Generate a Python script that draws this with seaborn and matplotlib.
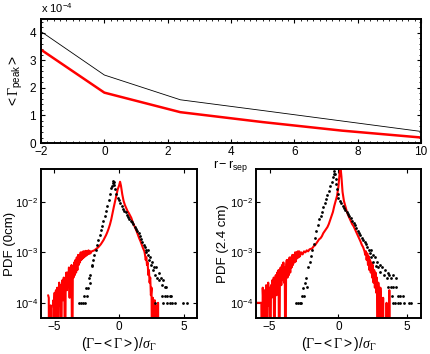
import numpy as np
import matplotlib
matplotlib.use("Agg")
import matplotlib.pyplot as plt
import seaborn as sns
from matplotlib.ticker import MultipleLocator, FixedLocator, NullLocator

sns.set_style("ticks")
plt.rcParams["font.family"] = ["Liberation Sans", "DejaVu Sans"]
plt.rcParams["mathtext.fontset"] = "custom"
plt.rcParams["mathtext.rm"] = "Liberation Serif"
plt.rcParams["mathtext.it"] = "Liberation Serif:italic"
plt.rcParams["mathtext.sf"] = "Liberation Sans"
for key in ["text.color", "axes.labelcolor", "xtick.color", "ytick.color", "axes.edgecolor"]:
    plt.rcParams[key] = "black"

# top panel: mean peak flux vs radial position
r_pos = [-2, 0, 2.4, 5, 7.5, 10]
gamma_black = [4.05, 2.47, 1.57, 1.18, 0.80, 0.42]
gamma_red = [3.39, 1.83, 1.12, 0.76, 0.45, 0.20]

# PDFs, log10 values (-6 = empty bin, below axis)
red0_x = [-5.45, -5.4, -5.38, -5.3, -5.25, -5.2, -5.1, -5.05, -5.0, -4.95, -4.9, -4.85,
          -4.8, -4.75, -4.7, -4.65, -4.6, -4.55, -4.5, -4.45, -4.4, -4.35, -4.3, -4.25,
          -4.2, -4.15, -4.1, -4.05, -4.0, -3.95, -3.9, -3.85, -3.8, -3.75, -3.7, -3.65,
          -3.6, -3.55, -3.5, -3.45, -3.4, -3.35, -3.3, -3.25, -3.2, -3.15, -3.1, -3.05,
          -3.0, -2.95, -2.9, -2.85, -2.8, -2.75, -2.7, -2.65, -2.6, -2.55, -2.5, -2.45,
          -2.4, -2.35, -2.3, -2.25, -2.2, -2.1, -2.0, -1.9, -1.8, -1.7, -1.6, -1.5, -1.4,
          -1.3, -1.2, -1.1, -1.0, -0.9, -0.8, -0.7, -0.6, -0.5, -0.4, -0.3, -0.2, -0.1,
          0.0, 0.08, 0.15, 0.25, 0.35, 0.45, 0.55, 0.65, 0.75, 0.85, 0.95, 1.05, 1.15,
          1.25, 1.35, 1.45, 1.55, 1.65, 1.75, 1.85, 1.95, 2.0, 2.05, 2.1, 2.15, 2.2, 2.25,
          2.3, 2.35, 2.4, 2.45, 2.5, 2.55, 2.6, 2.65, 2.7, 2.75, 2.8, 2.85, 2.95, 3.0,
          3.05, 3.15]
red0_lg = [-3.85, -3.9, -6, -6, -4.05, -6, -6, -3.95, -4.1, -3.8, -6, -3.75,
           -4.0, -3.7, -6, -3.9, -3.6, -4.05, -3.65, -6, -3.7, -3.55, -3.95, -3.5,
           -3.8, -6, -3.55, -3.4, -3.75, -3.4, -3.65, -3.3, -3.9, -3.35, -3.6, -3.25,
           -6, -3.3, -3.5, -3.2, -3.45, -3.15, -3.4, -3.1, -3.35, -3.05, -3.25, -3.05,
           -3.2, -3.0, -3.15, -3.0, -3.12, -2.98, -3.1, -2.98, -3.08, -2.97, -3.06, -2.98,
           -3.04, -2.96, -3.03, -2.97, -3.02, -2.98, -2.97, -2.96, -2.94, -2.92, -2.9, -2.87, -2.84,
           -2.8, -2.76, -2.71, -2.66, -2.6, -2.53, -2.45, -2.35, -2.22, -2.1, -1.98, -1.86, -1.75,
           -1.68, -1.6, -1.68, -1.85, -1.98, -2.06, -2.12, -2.18, -2.22, -2.27, -2.32, -2.4, -2.46,
           -2.52, -2.58, -2.65, -2.72, -2.78, -2.85, -2.92, -2.98, -3.05, -3.15, -3.1, -3.25, -3.2, -3.45,
           -3.35, -3.6, -3.5, -3.85, -3.7, -6, -3.9, -4.0, -6, -3.95, -6, -4.05, -6, -4.0,
           -6, -6]

blk0_x = [-3.05, -2.95, -2.8, -2.6, -2.7, -2.55, -2.45, -2.4, -2.3, -2.25, -2.2, -2.1,
          -2.05, -2.0, -1.9, -1.8, -1.7, -1.6, -1.5, -1.4, -1.3, -1.2, -1.1, -1.0, -0.9,
          -0.8, -0.7, -0.6, -0.55, -0.5, -0.45, -0.4, -0.35, -0.3, -0.2, -0.1, 0.0, 0.1,
          0.2, 0.3, 0.4, 0.5, 0.6, 0.7, 0.8, 0.9, 1.0, 1.1, 1.2, 1.3, 1.4, 1.5, 1.6, 1.7,
          1.8, 1.9, 2.0, 2.05, 2.1, 2.2, 2.25, 2.3, 2.4, 2.45, 2.55, 2.6, 2.7, 2.8, 2.85,
          2.95, 3.05, 3.1, 3.2, 3.3, 3.4, 3.5, 3.6, 3.3, 3.5, 3.7, 3.9, 4.0, 2.8, 3.4,
          3.7, 3.9, 4.1, 4.3, 4.9, 5.2]
blk0_lg = [-4.0, -4.0, -4.0, -4.0, -3.86, -3.7, -3.86, -3.7, -3.5, -3.6, -3.45, -3.25,
           -3.28, -3.16, -3.06, -2.96, -2.86, -2.76, -2.66, -2.56, -2.47, -2.38, -2.28, -2.18, -2.08,
           -1.96, -1.84, -1.72, -1.68, -1.62, -1.58, -1.6, -1.66, -1.74, -1.84, -1.92, -1.97, -2.02,
           -2.08, -2.14, -2.18, -2.2, -2.26, -2.3, -2.33, -2.37, -2.4, -2.44, -2.5, -2.54, -2.58, -2.62, -2.68, -2.74,
           -2.8, -2.86, -2.9, -3.0, -2.95, -3.05, -2.95, -3.15, -3.1, -3.25, -3.2, -3.35, -3.3, -3.45, -3.3,
           -3.5, -3.4, -3.55, -3.5, -3.65, -3.55, -3.68, -3.68, -3.86, -3.86, -3.86, -3.86, -3.86, -4.0, -4.0,
           -4.0, -4.0, -4.0, -4.0, -4.0, -4.0]

red24_x = [-6.0, -5.6, -5.55, -5.5, -5.45, -5.4, -5.35, -5.3, -5.25, -5.2, -5.15, -5.1,
           -5.05, -5.0, -4.95, -4.9, -4.85, -4.8, -4.75, -4.7, -4.65, -4.6, -4.55, -4.5,
           -4.45, -4.4, -4.35, -4.3, -4.25, -4.2, -4.15, -4.1, -4.05, -4.0, -3.95, -3.9,
           -3.85, -3.8, -3.75, -3.7, -3.65, -3.6, -3.55, -3.5, -3.45, -3.4, -3.35, -3.3,
           -3.25, -3.2, -3.15, -3.1, -3.05, -3.0, -2.95, -2.9, -2.85, -2.8, -2.7, -2.6,
           -2.5, -2.4, -2.3, -2.2, -2.1, -2.0, -1.9, -1.8, -1.7, -1.6, -1.5, -1.4, -1.3,
           -1.2, -1.1, -1.0, -0.9, -0.8, -0.7, -0.6, -0.5, -0.4, -0.3, -0.2, -0.1, 0.0,
           0.08, 0.15, 0.22, 0.3, 0.4, 0.5, 0.6, 0.7, 0.8, 0.9, 1.0, 1.1, 1.2, 1.3, 1.4,
           1.5, 1.6, 1.7, 1.8, 1.9, 1.95, 2.0, 2.05, 2.1, 2.15, 2.2, 2.25, 2.3, 2.35, 2.4,
           2.45, 2.5, 2.55, 2.6, 2.65, 2.7, 2.75, 2.8, 2.85, 2.9, 2.95, 3.0, 3.05, 3.1,
           3.15, 3.25, 3.3, 3.45, 3.5, 3.55, 3.65, 3.7, 3.75, 3.85]
red24_lg = [-4.0, -4.0, -6, -3.7, -4.05, -6, -3.75, -4.1, -3.65, -6, -3.8, -3.6,
            -4.05, -3.7, -6, -3.65, -3.9, -3.55, -3.85, -3.5, -6, -3.55, -3.45, -3.85,
            -3.4, -3.7, -3.35, -6, -3.45, -3.3, -3.65, -3.25, -3.55, -3.2, -3.6, -3.3,
            -6, -3.25, -3.15, -3.5, -3.15, -3.45, -3.1, -3.4, -3.1, -3.3, -3.05, -3.25,
            -3.05, -3.2, -3.0, -3.18, -3.0, -3.12, -2.98, -3.1, -2.98, -3.08, -3.0, -3.04,
            -2.98, -3.0, -2.96, -2.98, -2.94, -2.93, -2.92, -2.88, -2.86, -2.82, -2.78, -2.74, -2.72,
            -2.68, -2.62, -2.58, -2.54, -2.5, -2.44, -2.36, -2.28, -2.2, -2.08, -1.98, -1.88, -1.7,
            -1.45, -1.3, -1.5, -1.8, -1.98, -2.08, -2.18, -2.26, -2.32, -2.38, -2.44, -2.48, -2.54, -2.6, -2.66,
            -2.72, -2.78, -2.85, -2.9, -2.98, -3.05, -2.98, -3.15, -3.02, -3.25, -3.08, -3.35, -3.15, -3.4, -3.2,
            -3.5, -3.25, -3.6, -3.35, -3.7, -3.4, -3.8, -3.5, -6, -3.6, -3.85, -6, -3.7, -4.0,
            -6, -3.9, -6, -6, -4.0, -6, -6, -3.75, -6, -6]

blk24_x = [-3.1, -2.95, -2.8, -2.7, -2.65, -2.5, -2.6, -2.45, -2.35, -2.3, -2.2, -2.1,
           -2.0, -1.9, -1.8, -1.7, -1.6, -1.5, -1.4, -1.3, -1.2, -1.1, -1.0, -0.9, -0.8,
           -0.7, -0.6, -0.5, -0.4, -0.35, -0.3, -0.25, -0.2, -0.15, -0.1, -0.05, 0.0, 0.1,
           0.2, 0.3, 0.4, 0.5, 0.6, 0.7, 0.8, 0.9, 1.0, 1.1, 1.2, 1.3, 1.4, 1.5, 1.6, 1.7,
           1.8, 1.9, 2.0, 2.1, 2.2, 2.3, 2.35, 2.4, 2.5, 2.55, 2.65, 2.7, 2.8, 2.9, 3.0,
           3.05, 3.2, 3.3, 3.4, 3.5, 3.6, 3.7, 3.85, 4.0, 4.2, 3.6, 3.8, 4.0, 4.2, 3.9,
           4.3, 4.5, 4.7, 3.95, 4.1, 4.3, 4.5, 4.8, 5.1, 5.3]
blk24_lg = [-4.0, -4.0, -4.0, -4.0, -3.86, -3.86, -3.7, -3.6, -3.5, -3.68, -3.3, -3.2,
            -3.08, -2.95, -2.84, -2.72, -2.58, -2.45, -2.34, -2.27, -2.2, -2.1, -2.02, -1.94, -1.86,
            -1.78, -1.68, -1.6, -1.5, -1.44, -1.38, -1.45, -1.55, -1.65, -1.75, -1.85, -1.92, -1.98,
            -2.03, -2.08, -2.12, -2.16, -2.19, -2.24, -2.28, -2.32, -2.38, -2.42, -2.46, -2.52, -2.58, -2.62, -2.66, -2.72,
            -2.76, -2.8, -2.84, -2.9, -2.95, -3.02, -2.95, -3.1, -3.05, -3.2, -3.1, -3.28, -3.2, -3.3, -3.25,
            -3.38, -3.3, -3.45, -3.35, -3.5, -3.4, -3.45, -3.5, -3.45, -3.5, -3.68, -3.68, -3.68, -3.68, -3.86,
            -3.86, -3.86, -3.86, -4.0, -4.0, -4.0, -4.0, -4.0, -4.0, -4.0]

fig = plt.figure(figsize=(4.3, 3.54), dpi=100)
ax_top = fig.add_axes([0.0953, 0.596, 0.884, 0.350])
ax_l = fig.add_axes([0.0953, 0.1017, 0.363, 0.421])
ax_r = fig.add_axes([0.595, 0.1017, 0.384, 0.421])

def frame(ax):
    for s in ax.spines.values():
        s.set_visible(True)
        s.set_linewidth(1.4)
        s.set_color("black")
    ax.tick_params(direction="in", top=True, right=True, labelsize=8.5, width=0.8, length=3, pad=2.5)
    ax.tick_params(which="minor", direction="in", top=True, right=True, width=0.6, length=1.5)

sns.lineplot(x=r_pos, y=np.array(gamma_black) * 1e-4, ax=ax_top, color="k", linewidth=0.6)
sns.lineplot(x=r_pos, y=np.array(gamma_red) * 1e-4, ax=ax_top, color="red", linewidth=1.8)
ax_top.set_xlim(-2, 10)
ax_top.set_ylim(0, 4.5e-4)
ax_top.xaxis.set_major_locator(MultipleLocator(2))
ax_top.xaxis.set_minor_locator(MultipleLocator(0.2))
ax_top.yaxis.set_minor_locator(MultipleLocator(0.2e-4))
ax_top.set_yticks([0, 1e-4, 2e-4, 3e-4, 4e-4])
ax_top.set_yticklabels(["0", "1", "2", "3", "4"])
ax_top.set_xlabel(r"$\mathsf{r-r_{sep}}$", fontsize=9, labelpad=0)
ax_top.set_ylabel(r"$\mathsf{<}\Gamma_{\mathsf{peak}}\mathsf{>}$", fontsize=10, labelpad=3)
ax_top.text(0.0, 1.03, r"x $\mathdefault{10^{-4}}$", transform=ax_top.transAxes,
            fontsize=8, ha="left", va="bottom")
frame(ax_top)
ax_top.tick_params(axis="y", pad=3.5)

panels = [(ax_l, red0_x, red0_lg, blk0_x, blk0_lg, "PDF (0cm)", -0.16),
          (ax_r, red24_x, red24_lg, blk24_x, blk24_lg, "PDF (2.4 cm)", -0.16)]
for ax, rx, rlg, bx, blg, lab, lx in panels:
    sns.lineplot(x=rx, y=10.0 ** np.array(rlg), ax=ax, color="red", linewidth=1.5,
                 sort=False, estimator=None)
    sns.scatterplot(x=bx, y=10.0 ** np.array(blg), ax=ax, color="k", s=4,
                    linewidth=0, marker="o", zorder=3)
    ax.set_yscale("log")
    ax.set_xlim(-6, 6)
    ax.set_ylim(5e-5, 0.045)
    ax.yaxis.set_major_locator(FixedLocator([1e-4, 1e-3, 1e-2]))
    ax.yaxis.set_minor_locator(NullLocator())
    ax.xaxis.set_major_locator(FixedLocator([-5, 0, 5]))
    ax.set_xlabel(r"$\mathsf{(}\Gamma\mathsf{-<}\Gamma\mathsf{>)/}\sigma_\Gamma$", fontsize=10, labelpad=1)
    ax.set_ylabel(lab, fontsize=9.5)
    ax.yaxis.set_label_coords(lx, 0.5)
    frame(ax)
    ax.tick_params(axis="y", labelsize=8, pad=2)

fig.savefig("out.png", dpi=100)
